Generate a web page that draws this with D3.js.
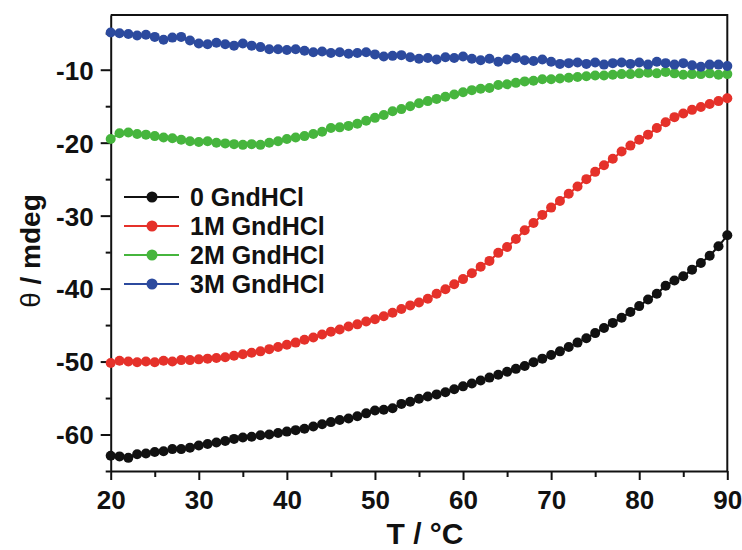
<!DOCTYPE html>
<html>
<head>
<meta charset="utf-8">
<script src="https://cdn.jsdelivr.net/npm/d3@7/dist/d3.min.js"></script>
<style>
  html, body { margin: 0; padding: 0; background: #fff; }
  svg { display: block; }
  text { font-family: "Liberation Sans", Arial, Helvetica, sans-serif; font-weight: bold; fill: #111; }
</style>
</head>
<body>
<svg id="chart" width="742" height="550"></svg>
<script>
// ---- data ----
const temps = d3.range(20, 91, 1); // T / °C, 1 °C steps

const series0 = [-62.9,-63.0,-63.2,-62.7,-62.6,-62.4,-62.3,-62.0,-62.0,-61.8,
  -61.5,-61.3,-61.1,-60.9,-60.6,-60.4,-60.3,-60.1,-60.0,-59.8,
  -59.6,-59.4,-59.2,-58.9,-58.6,-58.3,-58.0,-57.8,-57.5,-57.1,
  -56.7,-56.6,-56.4,-55.8,-55.5,-55.1,-54.8,-54.5,-54.2,-53.8,
  -53.4,-53.0,-52.6,-52.2,-51.8,-51.4,-51.0,-50.6,-50.1,-49.6,
  -49.1,-48.6,-48.0,-47.4,-46.8,-46.1,-45.4,-44.7,-44.0,-43.2,
  -42.4,-41.5,-40.7,-39.6,-38.9,-38.3,-37.4,-36.5,-35.5,-34.2,-32.7];

const series1 = [-50.2,-49.9,-50.0,-50.1,-50.0,-50.1,-49.9,-50.0,-49.8,-49.8,
  -49.7,-49.6,-49.5,-49.4,-49.2,-49.0,-48.8,-48.6,-48.3,-48.0,
  -47.7,-47.4,-47.0,-46.7,-46.3,-45.9,-45.6,-45.2,-44.9,-44.5,
  -44.2,-43.8,-43.3,-42.8,-42.3,-41.9,-41.4,-40.7,-40.1,-39.4,
  -38.7,-37.9,-37.0,-36.2,-35.1,-34.3,-33.2,-32.0,-31.0,-29.9,
  -28.9,-28.0,-27.0,-26.0,-25.0,-24.0,-23.1,-22.2,-21.2,-20.4,
  -19.6,-18.9,-18.0,-17.2,-16.5,-16.0,-15.5,-15.1,-14.7,-14.3,-13.9];

const series2 = [-19.5,-18.7,-18.6,-18.8,-18.9,-19.1,-19.3,-19.4,-19.6,-19.8,
  -19.9,-19.8,-20.0,-20.1,-20.2,-20.3,-20.2,-20.3,-20.0,-19.8,
  -19.5,-19.3,-19.1,-18.8,-18.5,-18.0,-17.9,-17.7,-17.4,-17.0,
  -16.6,-16.2,-15.7,-15.4,-15.0,-14.6,-14.3,-14.0,-13.7,-13.4,
  -13.1,-12.8,-12.6,-12.5,-12.1,-12.0,-11.8,-11.6,-11.5,-11.3,
  -11.3,-11.2,-11.1,-11.0,-10.9,-10.8,-10.8,-10.7,-10.6,-10.6,
  -10.5,-10.4,-10.5,-10.3,-10.5,-10.7,-10.6,-10.6,-10.5,-10.7,-10.6];

const series3 = [-4.9,-5.0,-5.1,-5.3,-5.2,-5.5,-5.9,-5.6,-5.5,-6.0,
  -6.4,-6.5,-6.3,-6.5,-6.7,-6.4,-6.7,-6.9,-7.2,-7.2,
  -7.3,-7.2,-7.4,-7.6,-7.5,-7.7,-7.6,-7.8,-7.7,-7.6,
  -7.9,-8.2,-8.1,-8.0,-8.3,-8.5,-8.4,-8.6,-8.3,-8.4,
  -8.2,-8.5,-8.7,-8.5,-8.9,-8.6,-8.4,-8.7,-8.8,-8.6,
  -8.9,-9.2,-9.1,-9.0,-9.2,-9.0,-9.3,-9.1,-9.0,-9.2,
  -9.0,-9.3,-8.9,-9.1,-9.3,-9.1,-9.4,-9.6,-9.3,-9.3,-9.5];

const seriesNames = ["0 GndHCl", "1M GndHCl", "2M GndHCl", "3M GndHCl"];
const seriesColors = ["#111111", "#e5312a", "#46b53d", "#2c4a9e"];
const seriesValues = [series0, series1, series2, series3];

const xTicks = [20, 30, 40, 50, 60, 70, 80, 90];
const xMinorTicks = [25, 35, 45, 55, 65, 75, 85];
const yTicks = [-60, -50, -40, -30, -20, -10];
const yTickLabels = ["-60", "-50", "-40", "-30", "-20", "-10"];
const yMinorTicks = [-65, -55, -45, -35, -25, -15, -5];

// ---- layout ----
const svg = d3.select("#chart");
const L = 110.7, R = 727.3, T = 15, B = 471;

const x = d3.scaleLinear().domain([20, 90]).range([L, R]);
const y = d3.scaleLinear().domain([-65, -2.5]).range([B, T]);

// frame (top & right)
svg.append("path")
  .attr("d", `M${L},${T}H${R}V${B}`)
  .attr("fill", "none").attr("stroke", "#111").attr("stroke-width", 2);

// x axis
const gx = svg.append("g").attr("transform", `translate(0,${B})`);
gx.call(d3.axisBottom(x).tickValues(xTicks).tickSize(9).tickSizeOuter(0).tickFormat(d => String(d)));
gx.append("g").call(d3.axisBottom(x).tickValues(xMinorTicks).tickSize(6).tickFormat(""))
  .select(".domain").remove();
gx.selectAll("path.domain").attr("stroke", "#111").attr("stroke-width", 2);
gx.selectAll("line").attr("stroke", "#111").attr("stroke-width", 2);
gx.selectAll("text").attr("y", 37.5).attr("dy", 0)
  .style("font-size", "26px").style("font-weight", "bold").attr("fill", "#111");

// y axis
const gy = svg.append("g").attr("transform", `translate(${L},0)`);
gy.call(d3.axisLeft(y).tickValues(yTicks).tickSize(10).tickSizeOuter(0).tickPadding(7)
  .tickFormat((d, i) => yTickLabels[i]));
gy.append("g").call(d3.axisLeft(y).tickValues(yMinorTicks).tickSize(5).tickFormat(""))
  .select(".domain").remove();
gy.selectAll("path.domain").attr("stroke", "#111").attr("stroke-width", 2);
gy.selectAll("line").attr("stroke", "#111").attr("stroke-width", 2);
gy.selectAll("text").attr("dy", "0.36em")
  .style("font-size", "26px").style("font-weight", "bold").attr("fill", "#111");

// data
const line = d3.line().x((d, i) => x(temps[i])).y(d => y(d));
seriesValues.forEach((vals, k) => {
  const g = svg.append("g");
  g.append("path").attr("d", line(vals))
    .attr("fill", "none").attr("stroke", seriesColors[k]).attr("stroke-width", 2);
  g.selectAll("circle").data(vals).join("circle")
    .attr("cx", (d, i) => x(temps[i]))
    .attr("cy", d => y(d))
    .attr("r", 5)
    .attr("fill", seriesColors[k]);
});

// legend
const legRows = [197, 226, 255, 284];
seriesNames.forEach((name, k) => {
  const gy0 = legRows[k];
  svg.append("line").attr("x1", 124).attr("x2", 179).attr("y1", gy0).attr("y2", gy0)
    .attr("stroke", seriesColors[k]).attr("stroke-width", 2);
  svg.append("circle").attr("cx", 152).attr("cy", gy0).attr("r", 5.5).attr("fill", seriesColors[k]);
  svg.append("text").attr("x", 190).attr("y", gy0).attr("dy", "0.36em")
    .style("font-size", "25px").text(name);
});

// axis titles
svg.append("text").attr("x", 425).attr("y", 544).attr("text-anchor", "middle")
  .style("font-size", "30px").text("T / °C");

const yt = svg.append("text")
  .attr("transform", "translate(40,251) rotate(-90)")
  .attr("text-anchor", "middle").style("font-size", "28px");
yt.append("tspan").style("font-weight", "normal").text("θ");
yt.append("tspan").text(" / mdeg");
</script>
</body>
</html>
